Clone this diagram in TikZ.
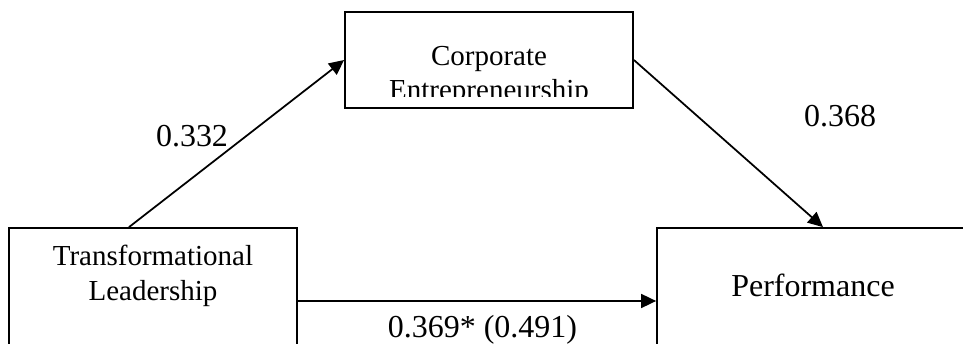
\documentclass[tikz,border=0pt]{standalone}
\usepackage{fontspec}
\setmainfont{Liberation Serif}
\usetikzlibrary{arrows.meta}

\begin{document}
\begin{tikzpicture}[
  box/.style={rectangle, draw, line width=1pt, minimum width=5.76cm, inner sep=0pt},
  arrow/.style={-{Triangle[length=0.3cm, width=0.28cm]}, line width=1pt},
  boxtext/.style={align=center, inner sep=0pt, font=\fontsize{16.5}{19.5}\selectfont},
  coef/.style={anchor=base, inner sep=0pt, font=\fontsize{18.2}{21}\selectfont},
]
  \clip (0, 0) rectangle (19.26, 6.88);
  \node[box, minimum height=2.64cm] (tl) at (3.06, 1.0) {};
  \node[box, minimum height=1.92cm] (ce) at (9.78, 5.68) {};
  \node[box, minimum width=6.24cm, minimum height=2.64cm] (pf) at (16.26, 1.0) {};
  \node[boxtext] (tltext) at (3.06, 1.36) {Transformational\\Leadership};
  \begin{scope}
    \clip (ce.north west) rectangle (12.66, 4.95);
    \node[boxtext] (cetext) at (9.78, 5.36) {Corporate\\Entrepreneurship};
  \end{scope}
  \node[coef] (pftext) at (16.26, 0.94) {Performance};
  \draw[arrow] ([xshift=-0.48cm]tl.north) -- (ce.west);
  \draw[arrow] (ce.east) -- ([xshift=0.2cm]pf.north);
  \draw[arrow] ([yshift=-0.14cm]tl.east) -- ([yshift=-0.14cm]tl.east -| pf.west);
  \node[coef] (b1) at (3.84, 3.94) {0.332};
  \node[coef] (b2) at (16.8, 4.34) {0.368};
  \node[coef] (b3) at (9.65, 0.12) {0.369* (0.491)};
\end{tikzpicture}
\end{document}
